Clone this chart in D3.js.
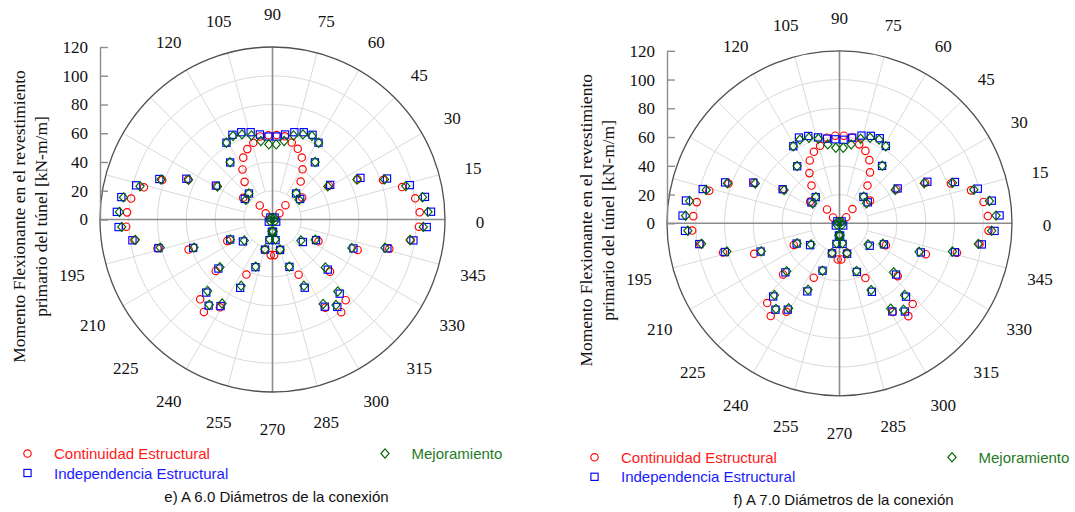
<!DOCTYPE html>
<html>
<head>
<meta charset="utf-8">
<script src="https://cdn.jsdelivr.net/npm/d3@7"></script>
<style>
  body { margin: 0; background: #fff; }
  svg { display: block; }
</style>
</head>
<body>
<svg id="chart" width="1075" height="512"></svg>
<script>
// Angular tick labels (degrees) and radial ticks (kN-m/m)
const angleTicks = [0, 15, 30, 45, 60, 75, 90, 105, 120, 195, 210, 225, 240, 255, 270, 285, 300, 315, 330, 345];
const radialTicks = [0, 20, 40, 60, 80, 100, 120];
const seriesNames = ["Continuidad Estructural", "Independencia Estructural", "Mejoramiento"];
const captions = ["e) A 6.0 Diámetros de la conexión", "f) A 7.0 Diámetros de la conexión"];
const yTitle = ["Momento Flexionante en el revestimiento", "primario del túnel [kN-m/m]"];

// Bending moment around the lining: [angle (deg), moment (kN-m/m)]
// Panel e) 6.0 diameters
const contE = [
  [2.81,102.5],[8.44,100.4],[14.06,92.9],[19.69,81.7],[25.31,65.4],[30.94,45.8],[36.56,25.7],[42.19,6.5],
  [47.81,13.4],[53.44,32.9],[59.06,40.7],[64.69,47.7],[70.31,52.2],[75.94,55.2],[81.56,58.5],[87.19,58.8],
  [92.81,58.7],[98.44,58.4],[104.06,55.0],[109.69,52.0],[115.31,47.6],[120.94,40.6],[126.56,32.6],[132.19,13.2],
  [137.81,6.4],[143.44,25.4],[149.06,45.3],[154.69,65.0],[160.31,81.5],[165.94,92.2],[171.56,99.4],[177.19,101.3],
  [182.81,101.9],[188.44,97.0],[194.06,82.5],[199.69,62.0],[205.31,34.8],[222.19,53.3],[227.81,74.9],[233.44,80.1],
  [239.06,71.2],[244.69,42.4],[255.94,21.7],[267.19,24.8],[272.81,24.8],[284.06,21.7],[295.31,42.5],[300.94,71.5],
  [306.56,80.3],[312.19,75.8],[317.81,54.0],[334.69,35.4],[340.31,62.9],[345.94,83.8],[351.56,97.0],[357.19,102.0]
];
const indE = [
  [2.81,110.4],[8.44,107.2],[14.06,98.5],[19.69,84.6],[25.31,67.7],[30.94,46.8],[36.56,24.0],[42.19,2.0],
  [47.81,24.4],[53.44,49.5],[59.06,62.3],[64.69,65.2],[70.31,64.5],[75.94,62.6],[81.56,59.8],[87.19,57.8],
  [92.81,57.8],[98.44,59.8],[104.06,62.6],[109.69,64.5],[115.31,65.2],[120.94,62.3],[126.56,49.4],[132.19,24.4],
  [137.81,2.0],[143.44,24.0],[149.06,45.9],[154.69,66.3],[160.31,83.6],[165.94,97.8],[171.56,106.3],[177.19,108.4],
  [182.81,107.2],[188.44,98.5],[194.06,81.8],[199.69,58.6],[205.31,32.6],[210.94,3.0],[216.56,25.6],[222.19,50.8],
  [227.81,68.6],[233.44,74.6],[239.06,70.2],[244.69,52.6],[250.31,35.2],[255.94,21.6],[261.56,14.5],[267.19,8.5],
  [272.81,8.5],[278.44,14.5],[284.06,21.8],[289.69,35.0],[295.31,52.5],[300.94,70.7],[306.56,75.7],[312.19,69.6],
  [317.81,51.9],[323.44,26.3],[329.06,3.0],[334.69,33.5],[340.31,59.8],[345.94,82.4],[351.56,99.1],[357.19,107.4]
];
const mejE = [
  [2.81,108.3],[8.44,105.5],[14.06,95.6],[19.69,82.8],[25.31,65.0],[30.94,44.8],[36.56,23.0],[42.19,1.5],
  [47.81,24.6],[53.44,49.8],[59.06,62.3],[64.69,64.2],[70.31,62.9],[75.94,60.3],[81.56,55.2],[87.19,52.3],
  [92.81,52.3],[98.44,55.2],[104.06,60.3],[109.69,62.9],[115.31,64.2],[120.94,62.3],[126.56,49.6],[132.19,24.5],
  [137.81,1.5],[143.44,23.0],[149.06,44.6],[154.69,64.6],[160.31,82.4],[165.94,95.0],[171.56,104.8],[177.19,106.6],
  [182.81,105.0],[188.44,96.5],[194.06,80.5],[199.69,58.0],[205.31,32.5],[210.94,2.0],[216.56,24.4],[222.19,49.4],
  [227.81,67.2],[233.44,73.8],[239.06,68.2],[244.69,51.0],[250.31,34.8],[255.94,21.4],[261.56,14.0],[267.19,8.3],
  [272.81,8.3],[278.44,14.0],[284.06,21.5],[289.69,34.8],[295.31,51.0],[300.94,68.5],[306.56,74.1],[312.19,67.6],
  [317.81,49.6],[323.44,24.6],[329.06,2.0],[334.69,32.9],[340.31,58.6],[345.94,80.7],[351.56,96.8],[357.19,105.0]
];

// Panel f) 7.0 diameters
const contF = [
  [2.81,103.3],[8.44,101.3],[14.06,94.3],[19.69,82.3],[25.31,66.0],[30.94,46.2],[36.56,26.5],[42.19,6.3],
  [47.81,13.4],[53.44,32.7],[59.06,41.3],[64.69,48.6],[70.31,53.5],[75.94,56.6],[81.56,60.3],[87.19,61.0],
  [92.81,61.0],[98.44,60.2],[104.06,55.6],[109.69,52.8],[115.31,48.4],[120.94,40.7],[126.56,32.7],[132.19,13.0],
  [137.81,6.1],[143.44,25.4],[149.06,46.0],[154.69,65.6],[160.31,82.0],[165.94,93.4],[171.56,100.4],[177.19,101.8],
  [182.81,102.6],[188.44,98.0],[194.06,83.5],[199.69,63.0],[205.31,35.2],[222.19,53.0],[227.81,74.9],[233.44,80.3],
  [239.06,71.8],[244.69,41.9],[255.94,21.2],[267.19,25.2],[272.81,25.2],[284.06,21.2],[295.31,42.1],[300.94,72.0],
  [306.56,80.4],[312.19,75.8],[317.81,54.7],[334.69,35.7],[340.31,63.8],[345.94,84.2],[351.56,98.5],[357.19,103.8]
];
const indF = [
  [2.81,111.5],[8.44,107.1],[14.06,99.2],[19.69,85.3],[25.31,67.6],[30.94,47.2],[36.56,24.5],[42.19,2.0],
  [47.81,24.8],[53.44,49.7],[59.06,62.7],[64.69,65.5],[70.31,64.6],[75.94,62.9],[81.56,60.2],[87.19,58.2],
  [92.81,58.5],[98.44,59.5],[104.06,61.6],[109.69,64.5],[115.31,66.0],[120.94,62.5],[126.56,49.4],[132.19,24.6],
  [137.81,2.0],[143.44,24.3],[149.06,46.1],[154.69,66.3],[160.31,84.5],[165.94,98.1],[171.56,108.0],[177.19,109.3],
  [182.81,107.6],[188.44,98.6],[194.06,82.2],[199.69,58.3],[205.31,33.0],[210.94,3.0],[216.56,25.5],[222.19,50.8],
  [227.81,68.7],[233.44,74.8],[239.06,70.0],[244.69,52.4],[250.31,35.0],[255.94,21.6],[261.56,14.5],[267.19,8.5],
  [272.81,8.5],[278.44,14.5],[284.06,21.8],[289.69,35.9],[295.31,52.7],[300.94,71.5],[306.56,76.4],[312.19,68.9],
  [317.81,53.1],[323.44,26.2],[329.06,3.0],[334.69,34.2],[340.31,60.1],[345.94,82.8],[351.56,100.1],[357.19,108.0]
];
const mejF = [
  [2.81,109.0],[8.44,105.4],[14.06,96.3],[19.69,83.5],[25.31,65.2],[30.94,45.2],[36.56,23.4],[42.19,1.5],
  [47.81,25.0],[53.44,49.9],[59.06,62.5],[64.69,64.4],[70.31,63.2],[75.94,60.6],[81.56,55.5],[87.19,52.6],
  [92.81,52.6],[98.44,55.5],[104.06,60.6],[109.69,63.2],[115.31,64.4],[120.94,62.5],[126.56,49.6],[132.19,24.6],
  [137.81,1.5],[143.44,23.2],[149.06,44.9],[154.69,64.8],[160.31,82.8],[165.94,95.6],[171.56,105.4],[177.19,107.2],
  [182.81,105.6],[188.44,97.0],[194.06,80.8],[199.69,57.8],[205.31,32.6],[210.94,2.0],[216.56,24.6],[222.19,49.6],
  [227.81,67.4],[233.44,74.2],[239.06,68.8],[244.69,51.2],[250.31,35.0],[255.94,21.4],[261.56,14.0],[267.19,8.3],
  [272.81,8.3],[278.44,14.0],[284.06,21.5],[289.69,35.2],[295.31,51.4],[300.94,69.2],[306.56,74.8],[312.19,67.4],
  [317.81,50.8],[323.44,24.8],[329.06,2.0],[334.69,33.4],[340.31,58.8],[345.94,81.0],[351.56,97.6],[357.19,106.0]
];

const markerColors = ["#ff0000", "#0000ff", "#006400"];
const textColors = ["#ff1a1a", "#1a1aff", "#1f7a1f"];
const serifFont = "'Liberation Serif', 'Times New Roman', serif";
const sansFont = "'Liberation Sans', Arial, sans-serif";

const svg = d3.select("#chart");
const R = 172.5;
const rScale = d3.scaleLinear().domain([0, 120]).range([0, R]);
const aScale = d3.scaleLinear().domain([0, 360]).range([0, 2 * Math.PI]);

// marker shapes centred at 0,0
const shapes = [
  g => g.append("circle").attr("r", 3.7),
  g => g.append("rect").attr("x", -3.6).attr("y", -3.6).attr("width", 7.2).attr("height", 7.2),
  g => g.append("path").attr("d", "M0,-4.6L4.1,0L0,4.6L-4.1,0Z")
];

const panels = [
  { cx: 272.5, cy: 219.5, caption: captions[0], series: [contE, indE, mejE] },
  { cx: 839.5, cy: 223.3, caption: captions[1], series: [contF, indF, mejF] }
];

panels.forEach(p => {
  const g = svg.append("g").attr("transform", `translate(${p.cx},${p.cy})`);
  const px = (a, v) => rScale(v) * Math.cos(aScale(a));
  const py = (a, v) => -rScale(v) * Math.sin(aScale(a));

  // light grid rings
  g.selectAll("circle.ring").data(radialTicks.filter(t => t > 0 && t < 120)).join("circle")
    .attr("class", "ring").attr("r", d => rScale(d))
    .attr("fill", "none").attr("stroke", "#dadada").attr("stroke-width", 1);

  // spokes every 15 degrees, from the first ring outward
  g.selectAll("line.spoke").data(d3.range(0, 360, 15).filter(a => a % 90 !== 0)).join("line")
    .attr("class", "spoke")
    .attr("x1", a => px(a, 20)).attr("y1", a => py(a, 20))
    .attr("x2", a => px(a, 120)).attr("y2", a => py(a, 120))
    .attr("stroke", "#dadada").attr("stroke-width", 1);

  // main cross axes
  [0, 90].forEach(a => {
    g.append("line")
      .attr("x1", px(a, 120)).attr("y1", py(a, 120))
      .attr("x2", px(a + 180, 120)).attr("y2", py(a + 180, 120))
      .attr("stroke", "#8c8c8c").attr("stroke-width", 1.6);
  });

  // outer border
  g.append("circle").attr("r", rScale(120)).attr("fill", "none")
    .attr("stroke", "#505050").attr("stroke-width", 1.3);

  // radial axis on the left
  const yScale = d3.scaleLinear().domain([0, 120]).range([0, -R]);
  const yAxis = g.append("g").attr("transform", `translate(${-R},0)`)
    .call(d3.axisLeft(yScale).tickValues(radialTicks).tickSizeInner(-8).tickSizeOuter(0).tickPadding(12));
  yAxis.select(".domain").attr("stroke", "#8c8c8c").attr("stroke-width", 1.4);
  yAxis.selectAll(".tick line").attr("stroke", "#8c8c8c").attr("stroke-width", 1.4);
  yAxis.selectAll(".tick text").attr("font-family", serifFont).attr("font-size", 17).attr("fill", "#111");

  // angle labels
  g.selectAll("text.ang").data(angleTicks).join("text")
    .attr("class", "ang")
    .attr("x", a => Math.cos(aScale(a)) * 207.5)
    .attr("y", a => -Math.sin(aScale(a)) * 207.5 + 2.5)
    .attr("text-anchor", "middle").attr("dominant-baseline", "central")
    .attr("font-family", serifFont).attr("font-size", 17).attr("fill", "#111")
    .text(a => a);

  // data markers
  p.series.forEach((pts, i) => {
    const sg = g.append("g").attr("fill", "none").attr("stroke", markerColors[i]).attr("stroke-width", 1.15);
    pts.forEach(([a, v]) => {
      const m = sg.append("g").attr("transform", `translate(${px(a, v)},${py(a, v)})`);
      shapes[i](m);
    });
  });

  // y axis title (two lines, rotated)
  const t = svg.append("text")
    .attr("transform", `translate(${p.cx - 254},${p.cy - 3}) rotate(-90)`)
    .attr("text-anchor", "middle").attr("font-family", serifFont).attr("font-size", 17.5).attr("fill", "#111");
  t.append("tspan").attr("x", 0).attr("dy", "0.35em").text(yTitle[0]);
  t.append("tspan").attr("x", 0).attr("dy", 22).text(yTitle[1]);

  // legend
  const legendPos = [
    { x: p.cx - 245, y: p.cy + 234 },
    { x: p.cx - 245, y: p.cy + 253.5 },
    { x: p.cx + 112.5, y: p.cy + 234 }
  ];
  seriesNames.forEach((name, i) => {
    const lp = legendPos[i];
    const m = svg.append("g").attr("transform", `translate(${lp.x},${lp.y})`)
      .attr("fill", "none").attr("stroke", markerColors[i]).attr("stroke-width", 1.15);
    shapes[i](m);
    svg.append("text").attr("x", lp.x + 26.5).attr("y", lp.y)
      .attr("dominant-baseline", "central")
      .attr("font-family", sansFont).attr("font-size", 15).attr("fill", textColors[i])
      .text(name);
  });

  // caption
  svg.append("text").attr("x", p.cx + 4).attr("y", p.cy + 276.5)
    .attr("text-anchor", "middle").attr("dominant-baseline", "central")
    .attr("font-family", sansFont).attr("font-size", 15).attr("fill", "#111")
    .text(p.caption);
});
</script>
</body>
</html>
